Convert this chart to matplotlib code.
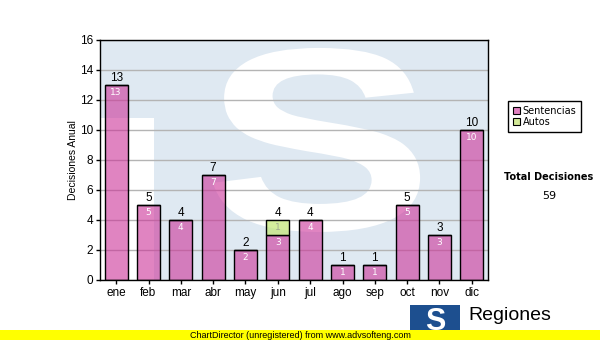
import numpy as np
import matplotlib
matplotlib.use("Agg")
import matplotlib.pyplot as plt
from matplotlib.patches import Patch, Rectangle, PathPatch
from matplotlib.textpath import TextPath
from matplotlib.font_manager import FontProperties
from matplotlib.transforms import Affine2D

# data
months = ["ene", "feb", "mar", "abr", "may", "jun",
          "jul", "ago", "sep", "oct", "nov", "dic"]
sentencias = [13, 5, 4, 7, 2, 3, 4, 1, 1, 5, 3, 10]
autos = [0, 0, 0, 0, 0, 1, 0, 0, 0, 0, 0, 0]
total_decisiones = 59

PINK = (0.80, 0.20, 0.60, 0.60)
GREEN = (0.76, 0.90, 0.45, 0.70)
BG_BLUE = "#dfe9f2"
ARIAL = "Liberation Sans"
VERDANA = "DejaVu Sans"

fig = plt.figure(figsize=(6, 3.4), dpi=100)
ax = fig.add_axes([100 / 600, 60 / 340, 388 / 600, 240 / 340])
ax.set_facecolor(BG_BLUE)

# watermark: white S and white block on light blue
ax.add_patch(Rectangle((0, 0), 0.139, 0.675, transform=ax.transAxes,
                       fc="white", ec="none", zorder=0.2))
tp = TextPath((0, 0), "S", size=1,
              prop=FontProperties(family=ARIAL, weight="bold"))
ext = tp.get_extents()
sx0, sx1, sy0, sy1 = 0.291, 0.825, 0.20, 0.967
tr = (Affine2D().translate(-ext.x0, -ext.y0)
      .scale((sx1 - sx0) / ext.width, (sy1 - sy0) / ext.height)
      .translate(sx0, sy0))
ax.add_patch(PathPatch(tr.transform_path(tp), transform=ax.transAxes,
                       fc="white", ec="none", zorder=0.2))

x = np.arange(len(months))
sent = np.array(sentencias)
aut = np.array(autos)
ax.bar(x, sent, width=0.71, color=PINK, edgecolor="black", lw=1, zorder=2)
ax.bar(x, aut, bottom=sent, width=0.71, color=GREEN,
       edgecolor="black", lw=1, zorder=2)

for i in range(len(months)):
    tot = sent[i] + aut[i]
    ax.annotate(str(tot), (x[i], tot), xytext=(0, 1),
                textcoords="offset points", ha="center", va="bottom",
                fontsize=8.5, family=ARIAL, color="black", zorder=3)
    if sent[i] > 0:
        ax.annotate(str(sent[i]), (x[i], sent[i]), xytext=(0, -5.5),
                    textcoords="offset points", ha="center", va="center",
                    fontsize=6.5, family=VERDANA, color="white", zorder=3)
    if aut[i] > 0:
        ax.annotate(str(aut[i]), (x[i], tot), xytext=(0, -5.5),
                    textcoords="offset points", ha="center", va="center",
                    fontsize=6.5, family=VERDANA, color="#a0a890", zorder=3)

ax.set_xlim(-0.5, len(months) - 0.5)
ax.set_ylim(0, 16)
ax.set_yticks(range(0, 17, 2))
ax.set_xticks(x)
ax.set_xticklabels(months)
ax.set_axisbelow(True)
ax.yaxis.grid(True, color="#b4b4b4", lw=1)
ax.tick_params(direction="out", length=3, width=1, labelsize=8.5, pad=2)
for lab in ax.get_xticklabels() + ax.get_yticklabels():
    lab.set_family(ARIAL)
for sp in ax.spines.values():
    sp.set_color("black")
    sp.set_linewidth(1)
ax.set_ylabel("Decisiones Anual", fontsize=7.5, family=ARIAL, labelpad=1)

# legend
handles = [Patch(fc="#e080c0", ec="black", lw=0.8),
           Patch(fc="#d4ea98", ec="black", lw=0.8)]
fig.legend(handles, ["Sentencias", "Autos"], loc="upper left",
           bbox_to_anchor=(508 / 600, 1 - 101 / 340), borderaxespad=0,
           prop=dict(family=VERDANA, size=7), frameon=True, fancybox=False,
           edgecolor="black", framealpha=1, handlelength=0.7,
           handleheight=0.7, handletextpad=0.3, borderpad=0.5,
           labelspacing=0.1)

fig.text(549 / 600, 1 - 177 / 340, "Total Decisiones", ha="center",
         va="center", fontsize=7, family=VERDANA, weight="bold")
fig.text(549 / 600, 1 - 196 / 340, str(total_decisiones), ha="center",
         va="center", fontsize=8, family=VERDANA)

# logo bottom right
fig.patches.append(Rectangle((410 / 600, 10 / 340), 50 / 600, 25 / 340,
                             transform=fig.transFigure, fc="#1d4f8f",
                             ec="none", zorder=1))
fig.text(435 / 600, 1 - 322 / 340, "S", ha="center", va="center",
         fontsize=22, weight="bold", family=ARIAL, color="white",
         zorder=2)
fig.text(468 / 600, 1 - 316 / 340, "Regiones", ha="left", va="center",
         fontsize=14, family=ARIAL, color="black")

# unregistered banner
fig.patches.append(Rectangle((0, 0), 1, 10 / 340, transform=fig.transFigure,
                             fc="#ffff00", ec="none", zorder=5))
fig.text(300 / 600, 5 / 340, "ChartDirector (unregistered) from www.advsofteng.com",
         ha="center", va="center", fontsize=6.5, family=ARIAL, zorder=6)

fig.savefig("out.png", dpi=100)
